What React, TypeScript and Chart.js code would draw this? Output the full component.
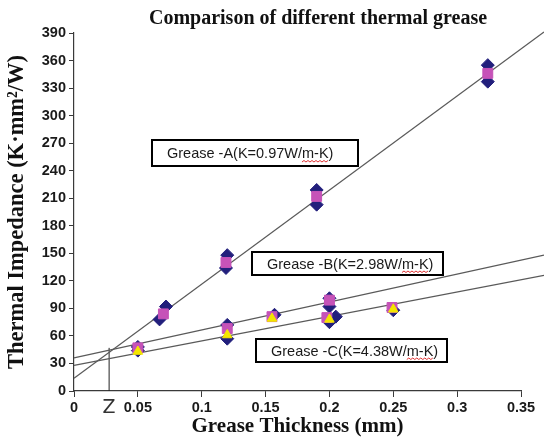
import React, { useEffect, useRef } from 'react';
import { Chart, registerables } from 'chart.js';

Chart.register(...registerables);

// ---- data ----
const chartTitle = 'Comparison of different thermal grease';
const xAxisTitle = 'Grease Thickness (mm)';
const yAxisTitle = 'Thermal Impedance (K·mm²/W)';

const xMin = 0;
const xMax = 0.35;
const xStep = 0.05;
const yMin = 0;
const yMax = 390;
const yStep = 30;

// fitted trend lines (start / end of each line)
const fitAX = [0, 0.368];
const fitAY = [14, 391];
const fitBX = [0, 0.368];
const fitBY = [36, 148];
const fitCX = [0, 0.368];
const fitCY = [28, 126];

// Z marker (intersection guide)
const zMarkX = [0.0275, 0.0275];
const zMarkY = [0, 47];
const zLabel = 'Z';

// Grease A measurements
const aDiamondX = [0.067, 0.072, 0.119, 0.12, 0.19, 0.19, 0.324, 0.324];
const aDiamondY = [78, 92, 134, 148, 203, 219, 337, 355];
const aSquareX = [0.07, 0.119, 0.19, 0.324];
const aSquareY = [84, 140, 212, 346];

// Grease B / C measurements
const bcDiamondX = [0.05, 0.05, 0.12, 0.12, 0.157, 0.2, 0.2, 0.205, 0.2, 0.25];
const bcDiamondY = [48, 44, 72, 57, 83, 101, 92, 81, 75, 88];
const bcSquareX = [0.05, 0.12, 0.155, 0.2, 0.198, 0.249];
const bcSquareY = [47, 68, 81, 99, 80, 91];
const bcTriangleX = [0.05, 0.12, 0.155, 0.2, 0.25];
const bcTriangleY = [43, 61, 79, 78, 89];

const boxLabels = [
  'Grease -A(K=0.97W/m-K)',
  'Grease -B(K=2.98W/m-K)',
  'Grease -C(K=4.38W/m-K)',
];

// ---- styling / layout (not data) ----
const NAVY = '#221f7c';
const PINK = '#c653b8';
const YELLOW = '#f4e600';
const LINE = '#5a5a5a';
const AXIS = '#3a3a3a';
const TICK_FONT = '"Liberation Sans", Arial, sans-serif';
const SERIF = '"Liberation Serif", "Times New Roman", serif';

const boxLayout = [
  { left: 152, top: 140, width: 206, height: 26 },
  { left: 252, top: 252, width: 191, height: 23 },
  { left: 256, top: 339, width: 191, height: 23 },
];

const zip = (xs: number[], ys: number[]) => xs.map((x, i) => ({ x, y: ys[i] }));

const overlayPlugin = {
  id: 'overlay',
  afterDraw(chart: any) {
    const { ctx, chartArea, scales } = chart;
    ctx.save();
    // title
    ctx.fillStyle = '#111';
    ctx.font = `bold 20px ${SERIF}`;
    ctx.textAlign = 'center';
    ctx.textBaseline = 'middle';
    ctx.fillText(chartTitle, chartArea.left + 244, 19);

    // Z label under the guide line
    ctx.font = `19px "DejaVu Sans", sans-serif`;
    ctx.fillStyle = '#333';
    ctx.fillText(zLabel, scales.x.getPixelForValue(zMarkX[0]), chartArea.bottom + 17);

    // label boxes
    ctx.textAlign = 'left';
    ctx.font = `14.5px ${TICK_FONT}`;
    boxLayout.forEach((b, i) => {
      ctx.fillStyle = '#fff';
      ctx.fillRect(b.left, b.top, b.width, b.height);
      ctx.strokeStyle = '#000';
      ctx.lineWidth = 2;
      ctx.strokeRect(b.left, b.top, b.width, b.height);
      ctx.fillStyle = '#1a1a1a';
      const tx = b.left + 15;
      const ty = b.top + b.height / 2 + 1;
      const text = boxLabels[i];
      ctx.fillText(text, tx, ty);
      // red spell-check wavy underline under "m-K"
      const idx = text.indexOf('m-K');
      if (idx >= 0) {
        const x0 = tx + ctx.measureText(text.slice(0, idx)).width;
        const x1 = x0 + ctx.measureText('m-K').width;
        const uy = ty + 8;
        ctx.strokeStyle = '#e03030';
        ctx.lineWidth = 1;
        ctx.beginPath();
        let up = true;
        ctx.moveTo(x0, uy);
        for (let x = x0 + 2; x <= x1; x += 2) {
          ctx.lineTo(x, up ? uy - 1.5 : uy);
          up = !up;
        }
        ctx.stroke();
      }
    });
    ctx.restore();
  },
};

const lineDs = (label: string, xs: number[], ys: number[]) => ({
  type: 'line' as const,
  label,
  data: zip(xs, ys),
  borderColor: LINE,
  borderWidth: 1.2,
  pointRadius: 0,
  showLine: true,
  fill: false,
  clip: false as any,
  order: 10,
});

export default function App() {
  const canvasRef = useRef<HTMLCanvasElement | null>(null);

  useEffect(() => {
    if (!canvasRef.current) return;
    const chart = new Chart(canvasRef.current, {
      type: 'scatter',
      data: {
        datasets: [
          lineDs('Fit A', fitAX, fitAY),
          lineDs('Fit B', fitBX, fitBY),
          lineDs('Fit C', fitCX, fitCY),
          { ...lineDs('Z', zMarkX, zMarkY), borderColor: '#222', borderWidth: 1 },
          {
            label: 'A diamond',
            data: zip(aDiamondX, aDiamondY),
            pointStyle: 'rectRot',
            pointRadius: 6.5,
            backgroundColor: NAVY,
            borderColor: NAVY,
            borderWidth: 1,
            order: 5,
          },
          {
            label: 'B/C diamond',
            data: zip(bcDiamondX, bcDiamondY),
            pointStyle: 'rectRot',
            pointRadius: 6.5,
            backgroundColor: NAVY,
            borderColor: NAVY,
            borderWidth: 1,
            order: 5,
          },
          {
            label: 'A square',
            data: zip(aSquareX, aSquareY),
            pointStyle: 'rect',
            pointRadius: 7,
            backgroundColor: PINK,
            borderColor: PINK,
            borderWidth: 1,
            order: 4,
          },
          {
            label: 'B/C square',
            data: zip(bcSquareX, bcSquareY),
            pointStyle: 'rect',
            pointRadius: 7,
            backgroundColor: PINK,
            borderColor: PINK,
            borderWidth: 1,
            order: 4,
          },
          {
            label: 'B/C triangle',
            data: zip(bcTriangleX, bcTriangleY),
            pointStyle: 'triangle',
            pointRadius: 5.5,
            backgroundColor: YELLOW,
            borderColor: YELLOW,
            borderWidth: 1,
            order: 3,
          },
        ] as any,
      },
      options: {
        responsive: false,
        animation: false,
        layout: { padding: { top: 33, right: 23, left: 0, bottom: 0 } },
        plugins: {
          legend: { display: false },
          tooltip: { enabled: false },
          title: { display: false },
        },
        scales: {
          x: {
            type: 'linear',
            min: xMin,
            max: xMax,
            afterFit: (s: any) => {
              s.height = 48;
            },
            ticks: {
              stepSize: xStep,
              color: '#1a1a1a',
              font: { family: TICK_FONT, size: 14.5, weight: 'bold' },
              padding: 2,
              callback: (v: any) => String(Number(Number(v).toFixed(2))),
            },
            grid: { drawOnChartArea: false, drawTicks: true, tickLength: 6, color: AXIS },
            border: { color: AXIS, width: 1.2 },
            title: {
              display: true,
              text: xAxisTitle,
              color: '#111',
              font: { family: SERIF, size: 21, weight: 'bold' },
              padding: { top: 0, bottom: 0 },
            },
          },
          y: {
            type: 'linear',
            min: yMin,
            max: yMax,
            afterFit: (s: any) => {
              s.width = 74;
            },
            ticks: {
              stepSize: yStep,
              color: '#1a1a1a',
              font: { family: TICK_FONT, size: 14.5, weight: 'bold' },
              padding: 3,
            },
            grid: { drawOnChartArea: false, drawTicks: true, tickLength: 5, color: AXIS },
            border: { color: AXIS, width: 1.2 },
            title: {
              display: true,
              text: yAxisTitle,
              color: '#111',
              font: { family: SERIF, size: 22.5, weight: 'bold' },
              padding: { top: 4, bottom: 0 },
            },
          },
        },
      },
      plugins: [overlayPlugin],
    });
    return () => chart.destroy();
  }, []);

  return (
    <div style={{ position: 'fixed', left: 0, top: 0, width: 544, height: 439, background: '#fff' }}>
      <canvas ref={canvasRef} width={544} height={439} />
    </div>
  );
}
